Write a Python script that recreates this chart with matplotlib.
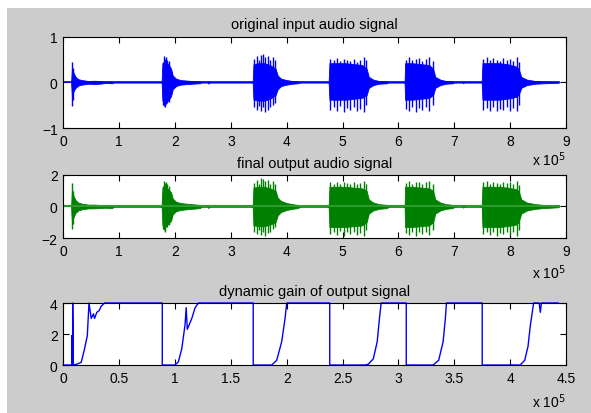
'''Three panel audio plot: input signal, output signal and dynamic gain'''

import matplotlib.pyplot as plt
from matplotlib.patches import Rectangle

plt.rcParams['font.family'] = ['Liberation Sans', 'DejaVu Sans']

# Data (x in units of 1e5 samples)

sig_len = 8.88

# envelope breakpoints shared by input and output signal
env_x = [0.14, 0.155, 0.18, 0.22, 0.27, 0.33, 0.45, 0.55, 0.65, 0.75, 0.88, 0.90,
         1.76, 1.775, 1.82, 1.88, 1.93, 1.96, 2.02, 2.10, 2.20, 2.30, 2.45, 2.47, 2.59, 2.60, 2.61,
         3.39, 3.405, 3.50, 3.60, 3.70, 3.80, 3.84, 3.90, 4.00, 4.10, 4.20, 4.25,
         4.75, 4.765, 4.90, 5.05, 5.20, 5.35, 5.43, 5.47, 5.55, 5.65, 5.80, 5.82,
         6.11, 6.12, 6.25, 6.40, 6.55, 6.62, 6.66, 6.75, 6.85, 6.98, 7.00, 7.15, 7.16, 7.17,
         7.49, 7.505, 7.65, 7.80, 7.95, 8.10, 8.15, 8.20, 8.30, 8.45, 8.60, 8.86, 8.88]

in_hi = [0, 0.30, 0.22, 0.12, 0.07, 0.05, 0.03, 0.035, 0.03, 0.015, 0.02, 0,
         0, 0.42, 0.45, 0.40, 0.30, 0.15, 0.08, 0.05, 0.04, 0.03, 0.02, 0, 0, 0.03, 0,
         0, 0.40, 0.42, 0.42, 0.38, 0.30, 0.15, 0.08, 0.05, 0.03, 0.02, 0,
         0, 0.42, 0.42, 0.42, 0.40, 0.38, 0.30, 0.12, 0.06, 0.03, 0.02, 0,
         0, 0.42, 0.42, 0.40, 0.38, 0.30, 0.12, 0.06, 0.03, 0.02, 0, 0, 0.02, 0,
         0, 0.42, 0.42, 0.42, 0.40, 0.35, 0.30, 0.12, 0.06, 0.03, 0.02, 0.01, 0]
in_lo = [0, -0.32, -0.20, -0.12, -0.07, -0.05, -0.03, -0.035, -0.03, -0.015, -0.02, 0,
         0, -0.40, -0.42, -0.40, -0.30, -0.15, -0.08, -0.05, -0.04, -0.03, -0.02, 0, 0, -0.03, 0,
         0, -0.38, -0.40, -0.40, -0.36, -0.28, -0.15, -0.08, -0.05, -0.03, -0.02, 0,
         0, -0.38, -0.38, -0.38, -0.36, -0.34, -0.28, -0.12, -0.06, -0.03, -0.02, 0,
         0, -0.38, -0.38, -0.36, -0.34, -0.28, -0.12, -0.06, -0.03, -0.02, 0, 0, -0.02, 0,
         0, -0.38, -0.38, -0.38, -0.36, -0.32, -0.28, -0.12, -0.06, -0.03, -0.02, -0.01, 0]

out_hi = [0, 1.10, 0.70, 0.40, 0.25, 0.18, 0.12, 0.12, 0.10, 0.08, 0.10, 0,
          0, 1.20, 1.20, 1.10, 0.90, 0.50, 0.30, 0.22, 0.18, 0.15, 0.10, 0, 0, 0.12, 0,
          0, 1.20, 1.25, 1.25, 1.15, 1.00, 0.55, 0.35, 0.22, 0.15, 0.10, 0,
          0, 1.25, 1.25, 1.25, 1.20, 1.15, 1.00, 0.45, 0.25, 0.15, 0.10, 0,
          0, 1.25, 1.25, 1.20, 1.15, 1.00, 0.45, 0.25, 0.15, 0.10, 0, 0, 0.08, 0,
          0, 1.25, 1.25, 1.25, 1.20, 1.10, 1.00, 0.45, 0.25, 0.15, 0.10, 0.05, 0]
out_lo = [0, -1.10, -0.70, -0.40, -0.25, -0.18, -0.12, -0.12, -0.10, -0.08, -0.10, 0,
          0, -1.20, -1.20, -1.10, -0.90, -0.50, -0.30, -0.22, -0.18, -0.15, -0.10, 0, 0, -0.12, 0,
          0, -1.20, -1.25, -1.25, -1.15, -1.00, -0.55, -0.35, -0.22, -0.15, -0.10, 0,
          0, -1.30, -1.30, -1.30, -1.25, -1.20, -1.00, -0.45, -0.25, -0.15, -0.10, 0,
          0, -1.30, -1.30, -1.25, -1.20, -1.00, -0.45, -0.25, -0.15, -0.10, 0, 0, -0.08, 0,
          0, -1.30, -1.30, -1.30, -1.25, -1.15, -1.00, -0.45, -0.25, -0.15, -0.10, -0.05, 0]

# single peaks sticking out of the envelope
spk_x = [0.160, 0.170,
         1.780, 1.800, 1.820, 1.840, 1.860, 1.890,
         3.42, 3.46, 3.50, 3.54, 3.58, 3.62, 3.66, 3.70, 3.75, 3.79,
         4.78, 4.84, 4.90, 4.96, 5.02, 5.08, 5.14, 5.20, 5.26, 5.32, 5.38, 5.42,
         6.13, 6.19, 6.25, 6.31, 6.37, 6.43, 6.49, 6.55, 6.61,
         7.52, 7.58, 7.64, 7.70, 7.76, 7.82, 7.88, 7.94, 8.00, 8.06, 8.12, 8.15]
in_spk_hi = [0.45, 0.32,
             0.45, 0.58, 0.52, 0.55, 0.50, 0.46,
             0.52, 0.58, 0.50, 0.60, 0.62, 0.55, 0.58, 0.50, 0.55, 0.48,
             0.52, 0.48, 0.53, 0.46, 0.52, 0.50, 0.47, 0.52, 0.45, 0.50, 0.55, 0.48,
             0.50, 0.55, 0.48, 0.52, 0.54, 0.47, 0.52, 0.55, 0.46,
             0.52, 0.55, 0.48, 0.53, 0.50, 0.47, 0.54, 0.50, 0.52, 0.46, 0.55, 0.45]
in_spk_lo = [-0.51, -0.38,
             -0.50, -0.52, -0.55, -0.48, -0.45, -0.42,
             -0.55, -0.60, -0.52, -0.62, -0.55, -0.65, -0.60, -0.55, -0.50, -0.45,
             -0.60, -0.55, -0.62, -0.52, -0.64, -0.56, -0.60, -0.54, -0.62, -0.58, -0.65, -0.50,
             -0.58, -0.62, -0.55, -0.64, -0.57, -0.60, -0.55, -0.62, -0.50,
             -0.60, -0.56, -0.62, -0.55, -0.63, -0.58, -0.60, -0.55, -0.62, -0.57, -0.63, -0.50]
out_spk_hi = [1.46, 1.00,
              1.30, 1.63, 1.50, 1.55, 1.40, 1.30,
              1.50, 1.70, 1.45, 1.78, 1.75, 1.60, 1.70, 1.45, 1.60, 1.40,
              1.55, 1.45, 1.58, 1.40, 1.55, 1.50, 1.42, 1.57, 1.40, 1.50, 1.60, 1.45,
              1.50, 1.60, 1.45, 1.55, 1.58, 1.42, 1.55, 1.60, 1.40,
              1.55, 1.60, 1.45, 1.57, 1.50, 1.42, 1.58, 1.50, 1.55, 1.40, 1.60, 1.35]
out_spk_lo = [-1.44, -1.10,
              -1.40, -1.50, -1.60, -1.30, -1.30, -1.20,
              -1.60, -1.75, -1.50, -1.80, -1.60, -1.85, -1.70, -1.60, -1.45, -1.30,
              -1.75, -1.60, -1.80, -1.55, -1.87, -1.65, -1.75, -1.60, -1.80, -1.70, -1.85, -1.50,
              -1.70, -1.80, -1.60, -1.85, -1.65, -1.75, -1.60, -1.80, -1.50,
              -1.75, -1.65, -1.80, -1.60, -1.85, -1.70, -1.75, -1.60, -1.80, -1.65, -1.87, -1.50]

# dynamic gain (saturates at 4)
gain_x = [0, 0.075, 0.075, 0.08, 0.084, 0.084, 0.09, 0.12, 0.16, 0.19, 0.215, 0.23,
          0.25, 0.27, 0.28, 0.30, 0.32, 0.34, 0.37,
          0.886, 0.886, 1.00, 1.03, 1.06, 1.09, 1.10, 1.11, 1.15, 1.18, 1.21,
          1.70, 1.70, 1.865, 1.91, 1.955, 1.985, 2.00,
          2.385, 2.385, 2.70, 2.73, 2.775, 2.81, 2.83, 2.845,
          3.07, 3.07, 3.31, 3.36, 3.40, 3.42, 3.43,
          3.75, 3.75, 4.09, 4.13, 4.16, 4.18, 4.20, 4.21, 4.26, 4.27, 4.28, 4.43]
gain_y = [0, 0, 1.9, 0, 0, 4, 0, 0.05, 0.17, 1.03, 1.9, 4,
          3.0, 3.3, 3.0, 3.4, 3.5, 3.8, 4,
          4, 0, 0, 0.2, 1.03, 2.6, 3.7, 2.3, 3.0, 3.7, 4,
          4, 0, 0, 0.3, 1.5, 3.0, 4,
          4, 0, 0, 0.05, 0.4, 1.5, 3.0, 4,
          4, 0, 0, 0.3, 1.5, 3.0, 4,
          4, 0, 0, 0.3, 1.2, 2.5, 3.5, 4, 4, 3.4, 4, 4]

# Figure

fig = plt.figure(figsize=(5.91, 4.14), dpi=100, facecolor='white')
fig.patches.append(Rectangle((7 / 591, 0), 1, 1 - 9 / 414, transform=fig.transFigure,
                             facecolor='#cccccc', edgecolor='none', zorder=-10))

def style(ax, yticks, xticks, xlabels):
  ax.set_yticks(yticks)
  ax.set_xticks(xticks)
  ax.set_xticklabels(xlabels)
  ax.tick_params(direction='in', length=4, width=0.8, top=True, right=True,
                 labelsize=10, pad=4, colors='black')
  for s in ax.spines.values():
    s.set_linewidth(0.8)

ax1 = fig.add_axes([0.1071, 0.6884, 0.8506, 0.2205])
ax1.fill_between(env_x, in_lo, in_hi, color='blue', lw=0.6)
ax1.vlines(spk_x, in_spk_lo, in_spk_hi, color='blue', lw=1)
ax1.plot([0, sig_len], [0, 0], color='blue', lw=1.2)
ax1.set_xlim(0, 9)
ax1.set_ylim(-1, 1)
style(ax1, [-1, 0, 1], range(10), [str(i) for i in range(10)])
ax1.set_title('original input audio signal', fontsize=10.5, pad=6)

ax2 = fig.add_axes([0.1071, 0.4227, 0.8506, 0.1522])
ax2.fill_between(env_x, out_lo, out_hi, color='green', lw=0.6)
ax2.vlines(spk_x, out_spk_lo, out_spk_hi, color='green', lw=1)
ax2.plot([0, sig_len], [0, 0], color='#2e9a2e', lw=1.5)
ax2.set_xlim(0, 9)
ax2.set_ylim(-2, 2)
style(ax2, [-2, 0, 2], range(10), [str(i) for i in range(10)])
ax2.set_title('final output audio signal', fontsize=10.5, pad=6)

ax3 = fig.add_axes([0.1071, 0.1159, 0.8506, 0.1498])
ax3.plot(gain_x, gain_y, color='blue', lw=1, clip_on=False)
ax3.set_xlim(0, 4.5)
ax3.set_ylim(0, 4)
style(ax3, [0, 2, 4], [0, 0.5, 1, 1.5, 2, 2.5, 3, 3.5, 4, 4.5],
      ['0', '0.5', '1', '1.5', '2', '2.5', '3', '3.5', '4', '4.5'])
ax3.set_title('dynamic gain of output signal', fontsize=10.5, pad=6)

for y in [160, 273, 402]:
  fig.text(566 / 591, 1 - y / 414, r'x 10$^5$', ha='right', va='center', fontsize=10)

fig.savefig('out.png', dpi=100, facecolor=fig.get_facecolor())
